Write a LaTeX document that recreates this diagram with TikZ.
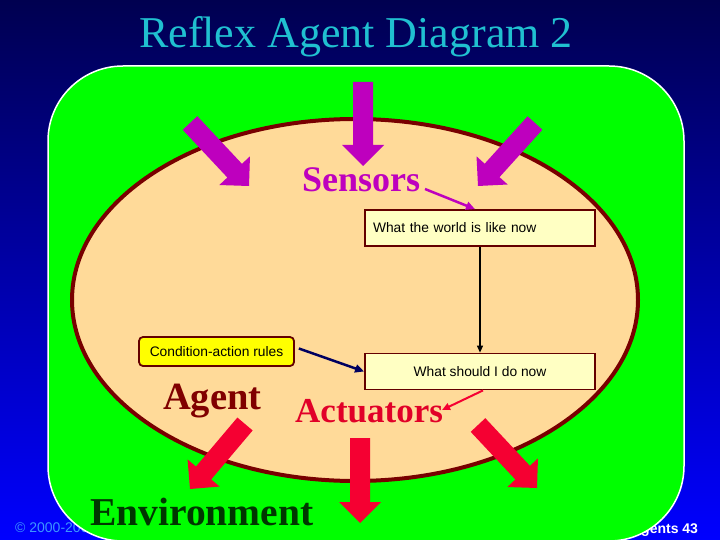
\documentclass[tikz,border=0pt]{standalone}
\usepackage{fontspec}
\setmainfont{Liberation Serif}
\newfontfamily\arialf{Liberation Sans}
\usetikzlibrary{arrows.meta,calc}
\definecolor{bgtop}{RGB}{0,0,80}
\definecolor{bgbot}{RGB}{0,0,255}
\definecolor{titlec}{RGB}{32,192,208}
\definecolor{envgreen}{RGB}{0,255,0}
\definecolor{peach}{RGB}{255,218,153}
\definecolor{rimred}{RGB}{120,0,0}
\definecolor{purp}{RGB}{190,0,190}
\definecolor{redarr}{RGB}{245,0,50}
\definecolor{actred}{RGB}{225,0,40}
\definecolor{agentred}{RGB}{128,0,0}
\definecolor{envtext}{RGB}{0,55,0}
\definecolor{boxfill}{RGB}{255,255,195}
\definecolor{boxrim}{RGB}{100,0,0}
\definecolor{ruleyellow}{RGB}{255,255,0}
\definecolor{navyline}{RGB}{0,0,96}
\definecolor{copyc}{RGB}{60,150,255}
\newcommand{\blockarr}[4]{%
  \coordinate (#4) at ($(#3)!21pt!(#2)$);
  \fill[#1] ($(#2)!10pt!90:(#3)$) -- ($(#4)!10pt!90:(#3)$) -- ($(#4)!21pt!90:(#3)$) -- (#3)
    -- ($(#4)!21pt!-90:(#3)$) -- ($(#4)!10pt!-90:(#3)$) -- ($(#2)!10pt!-90:(#3)$) -- cycle;}
\begin{document}
\begin{tikzpicture}[x=1pt,y=-1pt,
  infobox/.style={draw=boxrim,line width=1.8pt,fill=boxfill,minimum height=36pt,inner sep=0pt,font=\arialf\fontsize{13.8}{15}\selectfont},
  rulebox/.style={draw=boxrim,line width=1.8pt,fill=ruleyellow,rounded corners=4pt,minimum width=155pt,minimum height=29pt,inner sep=0pt,font=\arialf\fontsize{13.8}{15}\selectfont},
  bigword/.style={anchor=base west,inner sep=0pt,font=\fontsize{#1}{#1}\selectfont\bfseries},
  conn/.style={line width=#1},
]
\useasboundingbox (0,0) rectangle (720,540);
\shade[top color=bgtop,bottom color=bgbot] (0,0) rectangle (720,540);
% footer (partly hidden by the green shape)
\node[anchor=base west,inner sep=0pt,text=copyc,font=\arialf\fontsize{14}{14}\selectfont] (copy) at (15,532) {© 2000-200};
\node[anchor=base west,inner sep=0pt,text=white,font=\arialf\fontsize{14}{14}\selectfont\bfseries] (page) at (641,533) {gents 43};
% title
\node[anchor=base,inner sep=0pt,text=titlec,font=\fontsize{44}{44}\selectfont] (title) at (356,48) {Reflex Agent Diagram 2};
% environment
\draw[fill=envgreen,draw=white,line width=1.5pt,rounded corners=75pt] (48,66) rectangle (684,541);
% agent
\draw[fill=peach,draw=rimred,line width=4pt] (355,300) ellipse [x radius=283pt,y radius=181pt];
% sensor arrows
\coordinate (pcs) at (363,82);  \coordinate (pct) at (363,166);
\coordinate (pls) at (190,123); \coordinate (plt) at (249,186);
\coordinate (prs) at (535,123); \coordinate (prt) at (478,186);
\blockarr{purp}{pcs}{pct}{pch}
\blockarr{purp}{pls}{plt}{plh}
\blockarr{purp}{prs}{prt}{prh}
% actuator arrows
\coordinate (rls) at (245,424); \coordinate (rlt) at (190,489);
\coordinate (rcs) at (360,438); \coordinate (rct) at (360,523);
\coordinate (rrs) at (478,425); \coordinate (rrt) at (537,488);
\blockarr{redarr}{rls}{rlt}{rlh}
\blockarr{redarr}{rcs}{rct}{rch}
\blockarr{redarr}{rrs}{rrt}{rrh}
% texts
\node[bigword=36,text=purp] (sensors) at (302,192) {Sensors};
\node[bigword=38.5,text=agentred] (agent) at (163,409) {Agent};
\node[bigword=35,text=actred] (actuators) at (295,422) {Actuators};
\node[bigword=39.5,text=envtext] (env) at (90,525) {Environment};
% boxes
\node[infobox,text width=214pt,align=left,inner xsep=8pt,minimum width=230pt] (world) at (480,228) {What the world is like now};
\node[infobox,minimum width=230pt] (todo) at (480,371.5) {What should I do now};
\node[rulebox] (rules) at (216.5,351.5) {Condition-action rules};
% connectors
\coordinate (sensend) at (425,189);
\coordinate (actend) at (442,410);
\draw[conn=2.5pt,draw=purp,-{Triangle[length=9pt,width=8pt]}] (sensend) -- ([xshift=-5pt]world.north);
\draw[conn=1.2pt,draw=black,-{Triangle[length=7pt,width=6pt]}] (world.south) -- (todo.north);
\draw[conn=2.5pt,draw=navyline,-{Triangle[length=9pt,width=8pt]}] ([xshift=4pt,yshift=3pt]rules.east) -- (todo.west);
\draw[conn=2pt,draw=redarr,-{Triangle[length=8pt,width=7pt]}] ([xshift=3pt]todo.south) -- (actend);
\end{tikzpicture}
\end{document}
